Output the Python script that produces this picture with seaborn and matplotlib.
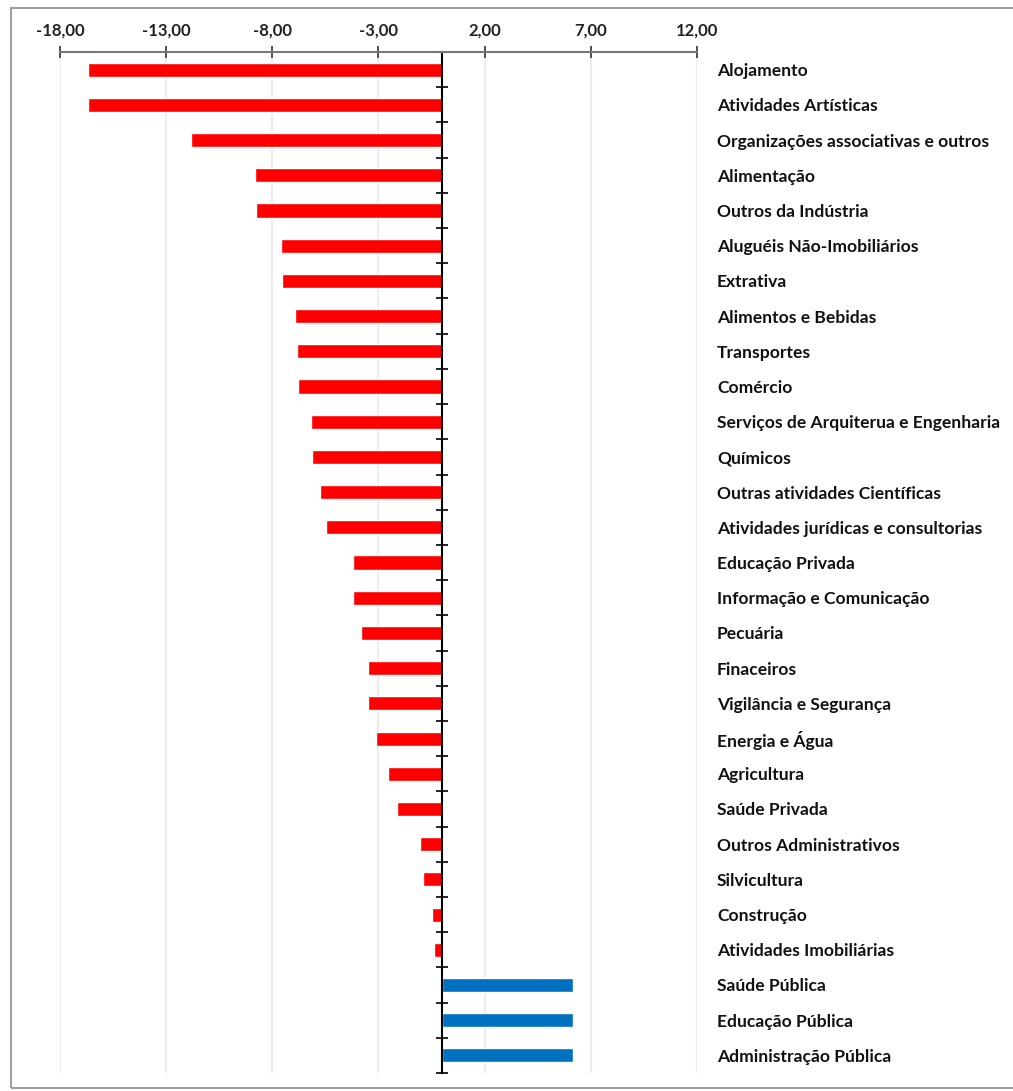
import pandas as pd
import seaborn as sns
import matplotlib.pyplot as plt
import matplotlib.patches as mpatches
import numpy as np

# dados
setores = ['Alojamento', 'Atividades Artísticas', 'Organizações associativas e outros',
           'Alimentação', 'Outros da Indústria', 'Aluguéis Não-Imobiliários', 'Extrativa',
           'Alimentos e Bebidas', 'Transportes', 'Comércio',
           'Serviços de Arquiterua e Engenharia', 'Químicos',
           'Outras atividades Científicas', 'Atividades jurídicas e consultorias',
           'Educação Privada', 'Informação e Comunicação', 'Pecuária', 'Finaceiros',
           'Vigilância e Segurança', 'Energia e Água', 'Agricultura', 'Saúde Privada',
           'Outros Administrativos', 'Silvicultura', 'Construção', 'Atividades Imobiliárias',
           'Saúde Pública', 'Educação Pública', 'Administração Pública']
valores = [-16.67, -16.67, -11.82, -8.81, -8.76, -7.58, -7.54, -6.92, -6.83, -6.78,
           -6.17, -6.12, -5.75, -5.46, -4.19, -4.19, -3.82, -3.49, -3.49, -3.11,
           -2.54, -2.12, -1.04, -0.89, -0.47, -0.38, 6.17, 6.17, 6.17]
x_ticks = [-18, -13, -8, -3, 2, 7, 12]

df = pd.DataFrame({'setor': setores, 'valor': valores})
df['sinal'] = np.where(df['valor'] < 0, 'neg', 'pos')

sns.set_style('white')
plt.rcParams['font.family'] = ['Lato', 'DejaVu Sans']

fig = plt.figure(figsize=(10.13, 10.91), dpi=100)
ax = fig.add_axes([0.0592, 0.0165, 0.6288, 0.9358])

sns.barplot(data=df, x='valor', y='setor', hue='sinal', orient='h',
            palette={'neg': '#FF0000', 'pos': '#0070C0'}, width=0.4, saturation=1,
            dodge=False, legend=False, ax=ax)

ax.set_xlim(-18, 12)
ax.set_ylim(len(setores) - 0.5, -0.5)
ax.set_xlabel('')
ax.set_ylabel('')

# eixo x no topo
ax.xaxis.tick_top()
ax.set_xticks(x_ticks)
ax.set_xticklabels([f'{v:.2f}'.replace('.', ',') for v in x_ticks],
                   fontsize=12, fontweight='bold', color='#222222')
ax.tick_params(axis='x', direction='inout', length=8, width=1.2, color='#333333', pad=6)
ax.grid(axis='x', color='#ececec', linewidth=1.5)
ax.set_axisbelow(True)

for s in ['bottom', 'right']:
    ax.spines[s].set_visible(False)
ax.spines['top'].set_color('#777777')
ax.spines['top'].set_linewidth(1.5)

# eixo y na posição zero
ax.spines['left'].set_position(('data', 0))
ax.spines['left'].set_color('black')
ax.spines['left'].set_linewidth(1.5)
ax.set_yticks(np.arange(-0.5, len(setores) + 0.5, 1), minor=True)
ax.tick_params(axis='y', which='minor', left=True, right=False, direction='inout',
               length=8, width=1.2, color='black')
ax.tick_params(axis='y', which='major', left=False, right=False,
               labelleft=False, labelright=True, pad=11)
for lab in ax.get_yticklabels():
    lab.set_fontsize(12.6)
    lab.set_fontweight('bold')
    lab.set_color('#111111')
    lab.set_ha('left')

# moldura
fig.patches.append(mpatches.Rectangle((0.011, 0.003), 1.2, 0.99, transform=fig.transFigure,
                                      fill=False, edgecolor='#a0a0a0', linewidth=1.5))

plt.savefig('out.png', dpi=100)
